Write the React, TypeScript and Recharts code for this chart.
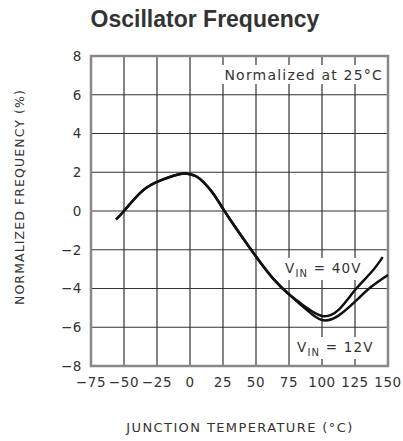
import {
  CartesianGrid,
  Line,
  LineChart,
  ReferenceArea,
  XAxis,
  YAxis,
} from "recharts";

// shared part of the curve (both supply voltages overlap here)
const sharedTemps = [-56, -50, -37.5, -25, -12.5, -5, 0, 5, 10, 17, 25, 30, 37.5, 50, 62.5, 75];
const sharedFreq = [-0.43, 0.0, 0.95, 1.5, 1.82, 1.93, 1.9, 1.78, 1.5, 0.95, 0.12, -0.4, -1.15, -2.35, -3.45, -4.3];

const temps40 = [87.5, 100, 112.5, 125, 137.5, 146];
const freq40 = [-4.95, -5.42, -5.1, -4.08, -3.15, -2.38];

const temps12 = [87.5, 100, 112.5, 125, 137.5, 150];
const freq12 = [-5.05, -5.63, -5.4, -4.68, -3.9, -3.3];

const xTicks = [-75, -50, -25, 0, 25, 50, 75, 100, 125, 150];
const yTicks = [-8, -6, -4, -2, 0, 2, 4, 6, 8];

const build = (extraT: number[], extraF: number[]) => [
  ...sharedTemps.map((t, i) => ({ t, f: sharedFreq[i] })),
  ...extraT.map((t, i) => ({ t, f: extraF[i] })),
];

const line40 = build(temps40, freq40);
const line12 = build(temps12, freq12);

const fmt = (v: number) => String(v).replace("-", "\u2212");

const tickStyle = { fontFamily: "DejaVu Sans", fontSize: 13.5, fill: "#333", letterSpacing: 0.6 };
const labelFont = "DejaVu Sans";

export default function App() {
  return (
    <div style={{ position: "absolute", left: 0, top: 0, background: "#fff" }}>
      <LineChart
        width={403}
        height={441}
        margin={{ top: 56, right: 15, bottom: 0, left: 0 }}
      >
        <CartesianGrid stroke="#333" strokeWidth={1.2} />
        <XAxis
          type="number"
          dataKey="t"
          domain={[-75, 150]}
          ticks={xTicks}
          tickFormatter={fmt}
          allowDataOverflow
          height={75}
          axisLine={false}
          tickLine={false}
          tickSize={10}
          tickMargin={1}
          tick={tickStyle}
          interval={0}
        />
        <YAxis
          type="number"
          domain={[-8, 8]}
          ticks={yTicks}
          tickFormatter={fmt}
          width={91}
          axisLine={false}
          tickLine={false}
          tickSize={8}
          tickMargin={1}
          tick={tickStyle}
          interval={0}
        />
        <ReferenceArea
          x1={-75}
          x2={150}
          y1={-8}
          y2={8}
          fill="none"
          stroke="#888"
          strokeWidth={2.5}
          fillOpacity={0}
        />
        <Line
          data={line40}
          dataKey="f"
          type="natural"
          stroke="#111"
          strokeWidth={2.5}
          dot={false}
          isAnimationActive={false}
        />
        <Line
          data={line12}
          dataKey="f"
          type="natural"
          stroke="#111"
          strokeWidth={2.5}
          dot={false}
          isAnimationActive={false}
        />
        <text
          x={205}
          y={27}
          textAnchor="middle"
          style={{ fontFamily: "Liberation Sans", fontWeight: 700, fontSize: 23, fill: "#333" }}
        >
          Oscillator Frequency
        </text>
        <rect x={219} y={65} width={166} height={19} fill="#fff" />
        <text
          x={383}
          y={80}
          textAnchor="end"
          style={{ fontFamily: labelFont, fontSize: 14, fill: "#333", letterSpacing: 1.2 }}
        >
          Normalized at 25°C
        </text>
        <rect x={283} y={258} width={80} height={22} fill="#fff" />
        <text
          x={285}
          y={273}
          style={{ fontFamily: labelFont, fontSize: 13.5, fill: "#333", letterSpacing: 1.2 }}
        >
          V<tspan dy={4} fontSize={10}>IN</tspan>
          <tspan dy={-4}> = 40V</tspan>
        </text>
        <rect x={295} y={337} width={80} height={22} fill="#fff" />
        <text
          x={297}
          y={352}
          style={{ fontFamily: labelFont, fontSize: 13.5, fill: "#333", letterSpacing: 1.2 }}
        >
          V<tspan dy={4} fontSize={10}>IN</tspan>
          <tspan dy={-4}> = 12V</tspan>
        </text>
        <text
          x={240}
          y={432}
          textAnchor="middle"
          style={{ fontFamily: labelFont, fontSize: 13, fill: "#333", letterSpacing: 1.4 }}
        >
          JUNCTION TEMPERATURE (°C)
        </text>
        <text
          x={24}
          y={197}
          textAnchor="middle"
          transform="rotate(-90 24 197)"
          style={{ fontFamily: labelFont, fontSize: 12.5, fill: "#333", letterSpacing: 1.1 }}
        >
          NORMALIZED FREQUENCY (%)
        </text>
      </LineChart>
    </div>
  );
}
